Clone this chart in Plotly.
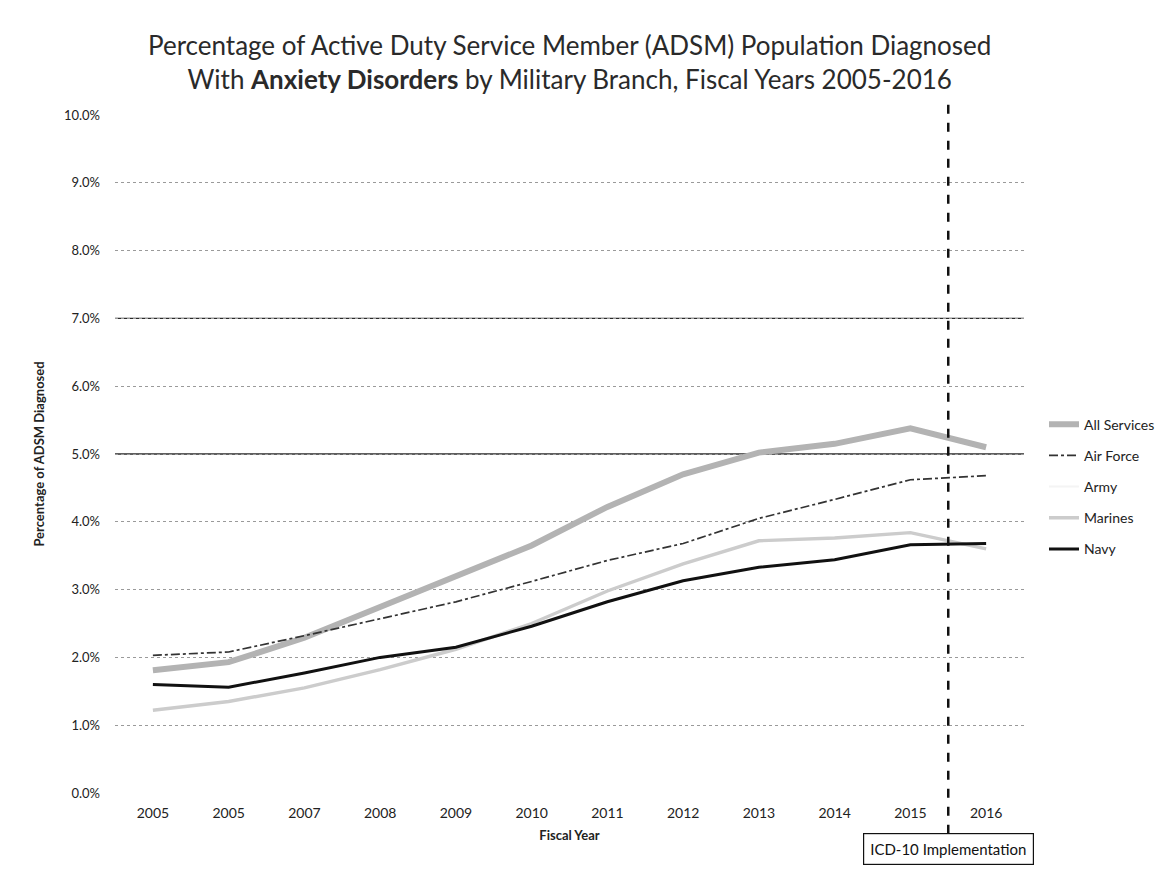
import plotly.graph_objects as go

# Fiscal-year tick labels (the source chart labels the second year "2005" as well)
years = ["2005", "2005", "2007", "2008", "2009", "2010",
         "2011", "2012", "2013", "2014", "2015", "2016"]

# Percentage of ADSM population diagnosed, by branch
all_services = [1.81, 1.93, 2.29, 2.75, 3.20, 3.65, 4.22, 4.70, 5.02, 5.15, 5.38, 5.10]
air_force    = [2.03, 2.08, 2.32, 2.57, 2.82, 3.12, 3.43, 3.68, 4.05, 4.33, 4.62, 4.68]
army         = [None] * 12   # line too faint to read; kept for the legend entry
marines      = [1.22, 1.35, 1.55, 1.82, 2.12, 2.50, 2.98, 3.38, 3.72, 3.76, 3.84, 3.60]
navy         = [1.60, 1.56, 1.77, 2.00, 2.15, 2.46, 2.82, 3.13, 3.33, 3.44, 3.66, 3.68]

y_ticks = [0, 1, 2, 3, 4, 5, 6, 7, 8, 9, 10]
y_tick_text = [f"{v:.1f}%" for v in y_ticks]
dark_grid = [5, 7]
icd10_at = 10.5          # between FY2015 and FY2016

FONT = "Lato, 'Open Sans', sans-serif"
x_idx = list(range(len(years)))

series = [
    ("All Services", all_services, dict(color="#b3b3b3", width=6)),
    ("Air Force", air_force, dict(color="#333333", width=1.7, dash="dashdot")),
    ("Army", army, dict(color="#f4f4f4", width=2)),
    ("Marines", marines, dict(color="#cccccc", width=3.4)),
    ("Navy", navy, dict(color="#111111", width=3)),
]

fig = go.Figure()
for name, vals, line in series:
    fig.add_trace(go.Scatter(
        x=x_idx, y=vals, name=name, mode="lines", line=line,
        legendgroup=name, connectgaps=False,
    ))

# darker gridlines
for v in dark_grid:
    fig.add_shape(type="line", xref="paper", x0=0, x1=1, yref="y", y0=v, y1=v,
                  line=dict(color="#2a2a2a", width=1.3), layer="below")

# ICD-10 implementation marker
fig.add_shape(type="line", xref="x", x0=icd10_at, x1=icd10_at,
              yref="paper", y0=-0.06, y1=1.015,
              line=dict(color="#111111", width=2.5, dash="dash"))
fig.add_annotation(xref="x", x=icd10_at, yref="paper", y=-0.083,
                   text="ICD-10 Implementation", showarrow=False,
                   font=dict(family=FONT, size=15, color="#111111"),
                   bgcolor="white", bordercolor="#111111", borderwidth=1.2,
                   borderpad=6, xanchor="center", yanchor="middle")

# chart title
fig.add_annotation(
    xref="paper", x=0.5, yref="paper", y=1.13, xanchor="center", yanchor="top",
    text=("Percentage of Active Duty Service Member (ADSM) Population Diagnosed<br>"
          "With <b>Anxiety Disorders</b> by Military Branch, Fiscal Years 2005-2016"),
    showarrow=False, align="center",
    font=dict(family=FONT, size=26, color="#2a2a2a"),
)

fig.update_layout(
    width=1172, height=870,
    paper_bgcolor="white", plot_bgcolor="white",
    margin=dict(l=115, r=144, t=115, b=77),
    font=dict(family=FONT, color="#222222"),
    legend=dict(
        x=1.022, xanchor="left", y=0.452, yanchor="middle",
        font=dict(family=FONT, size=14, color="#222222"),
        tracegroupgap=10, bgcolor="rgba(0,0,0,0)",
    ),
    xaxis=dict(
        range=[-0.5, len(years) - 0.5],
        tickvals=x_idx, ticktext=years,
        showgrid=False, zeroline=False, showline=False,
        ticklabelstandoff=10,
        tickfont=dict(family=FONT, size=14, color="#222222"),
        title=dict(text="<b>Fiscal Year</b>", standoff=10,
                   font=dict(family=FONT, size=13, color="#222222")),
    ),
    yaxis=dict(
        range=[0, 10], tickvals=y_ticks, ticktext=y_tick_text,
        showgrid=True, gridcolor="#9a9a9a", griddash="dot", gridwidth=1,
        zeroline=False, showline=False, ticklabelstandoff=14,
        tickfont=dict(family=FONT, size=13, color="#222222"),
        title=dict(text="<b>Percentage of ADSM Diagnosed</b>", standoff=16,
                   font=dict(family=FONT, size=13, color="#222222")),
    ),
)

fig.write_html("out.html")
